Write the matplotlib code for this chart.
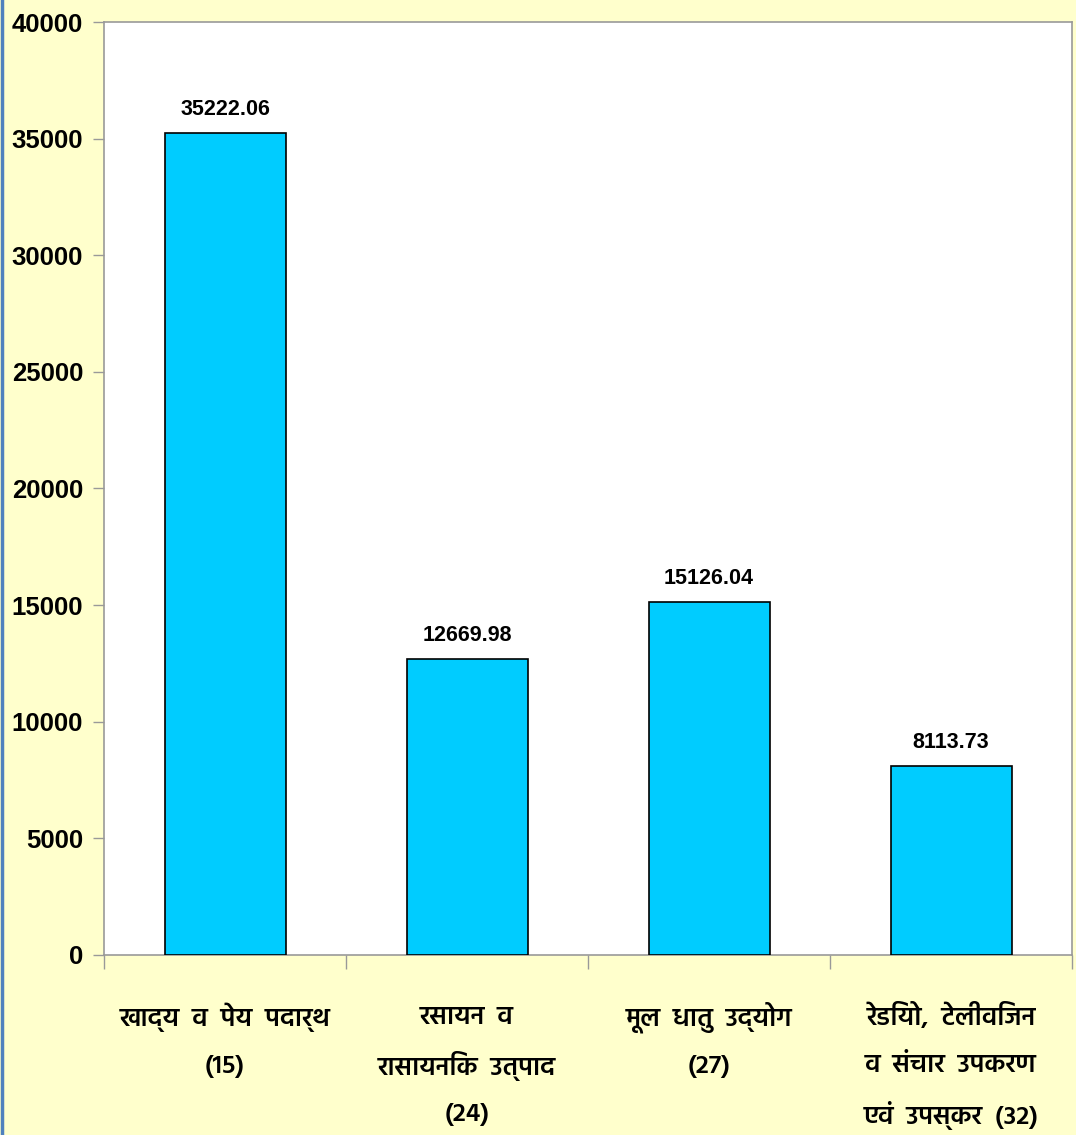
import matplotlib
matplotlib.use("Agg")
import matplotlib.pyplot as plt
from matplotlib import font_manager
from matplotlib.lines import Line2D

categories = [
    ["खाद्य  व  पेय  पदार्थ", "(15)"],
    ["रसायन  व", "रासायनिक  उत्पाद", "(24)"],
    ["मूल  धातु  उद्योग", "(27)"],
    ["रेडियो,  टेलीविजन", "व  संचार  उपकरण", "एवं  उपस्कर  (32)"],
]
values = [35222.06, 12669.98, 15126.04, 8113.73]
value_labels = ["35222.06", "12669.98", "15126.04", "8113.73"]
yticks = [0, 5000, 10000, 15000, 20000, 25000, 30000, 35000, 40000]

available = {f.name for f in font_manager.fontManager.ttflist}
deva = next((n for n in ["Hind", "Noto Sans Devanagari", "Ek Mukta", "FreeSans"]
             if n in available), None)
label_families = ([deva] if deva else []) + ["DejaVu Sans"]

fig = plt.figure(figsize=(10.76, 11.35), dpi=100, facecolor="#FFFFCC")
ax = fig.add_axes([104/1076, 1 - 955/1135, (1072-104)/1076, (955-22)/1135])
ax.set_facecolor("white")

x = list(range(len(values)))
ax.bar(x, values, width=0.5, color="#00CCFF", edgecolor="black", linewidth=1.2, zorder=3)

ax.set_xlim(-0.5, 3.5)
ax.set_ylim(0, 40000)
ax.set_yticks(yticks)
ax.set_yticklabels([str(t) for t in yticks], fontfamily="Liberation Sans",
                   fontweight="bold", fontsize=18.5)
ax.tick_params(axis="y", length=8, width=1, color="#999999", pad=7)

ax.set_xticks([-0.5, 0.5, 1.5, 2.5, 3.5])
ax.set_xticklabels([])
ax.tick_params(axis="x", length=10, width=1, color="#999999")

# category labels, one line each, centred under each bar
xform = ax.get_xaxis_transform()
for xi, lines in zip(x, categories):
    for k, line in enumerate(lines):
        ax.annotate(line, (xi, 0), xycoords=xform,
                    xytext=(0, -62 - 49 * k), textcoords="offset pixels",
                    ha="center", va="center", fontfamily=label_families,
                    fontsize=19, fontweight="semibold", color="black",
                    annotation_clip=False)

for s in ax.spines.values():
    s.set_color("#999999")
    s.set_linewidth(1.2)

for xi, v, lab in zip(x, values, value_labels):
    ax.annotate(lab, (xi, v), xytext=(0, 9.5), textcoords="offset points",
                ha="center", va="bottom", fontfamily="Liberation Sans",
                fontweight="bold", fontsize=15.5)

fig.add_artist(Line2D([0.0015, 0.0015], [0, 1], transform=fig.transFigure,
                      color="#4F81BD", linewidth=2.5))

fig.savefig("out.png", dpi=100, facecolor=fig.get_facecolor())
